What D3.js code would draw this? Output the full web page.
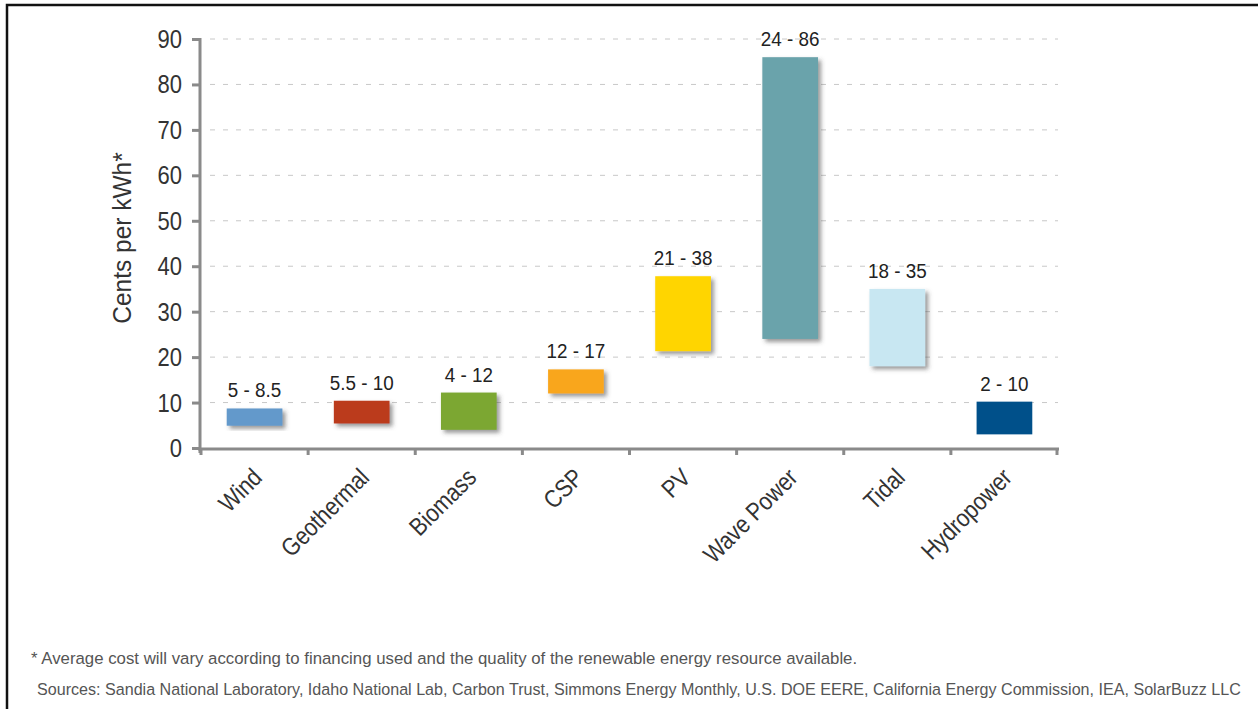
<!DOCTYPE html>
<html>
<head>
<meta charset="utf-8">
<script src="https://cdn.jsdelivr.net/npm/d3@7"></script>
<style>
  body { margin: 0; background: #fff; }
  svg { display: block; font-family: "Liberation Sans", Arial, sans-serif; }
</style>
</head>
<body>
<svg id="chart"></svg>
<script>
// data
const categories = ['Wind', 'Geothermal', 'Biomass', 'CSP', 'PV', 'Wave Power', 'Tidal', 'Hydropower'];
const lowValues = [4.9, 5.4, 4, 12, 21.3, 24, 18, 3];
const highValues = [8.7, 10.4, 12.2, 17.3, 37.8, 86, 35, 10.2];
const rangeLabels = ['5 - 8.5', '5.5 - 10', '4 - 12', '12 - 17', '21 - 38', '24 - 86', '18 - 35', '2 - 10'];
const barColors = ['#6499cb', '#bb3a1a', '#7ba733', '#f9a61b', '#ffd500', '#6ba3ab', '#c8e7f2', '#00508a'];
const yTicks = [0, 10, 20, 30, 40, 50, 60, 70, 80, 90];
const footnote = '* Average cost will vary according to financing used and the quality of the renewable energy resource available.';
const sources = 'Sources: Sandia National Laboratory, Idaho National Lab, Carbon Trust, Simmons Energy Monthly, U.S. DOE EERE, California Energy Commission, IEA, SolarBuzz LLC';

const width = 1258, height = 709;
const svg = d3.select('#chart').attr('width', width).attr('height', height);

// no narrow font installed, so squeeze Liberation Sans sideways
function narrowText(parent, px, py, str, size, sx, anchor, angle) {
  return parent.append('text')
    .attr('transform', `translate(${px},${py}) rotate(${angle || 0}) scale(${sx},1)`)
    .attr('text-anchor', anchor || 'start')
    .style('font-size', size + 'px')
    .text(str);
}

// squeeze a line so it spans a given width
function fitText(parent, px, py, str, size, w) {
  const t = narrowText(parent, px, py, str, size, 1);
  const natural = t.node().getComputedTextLength();
  t.attr('transform', `translate(${px},${py}) scale(${w / natural},1)`);
  return t;
}

// frame, only top and left edges are in view
svg.append('rect')
  .attr('x', 7).attr('y', 5)
  .attr('width', 1400).attr('height', 900)
  .attr('fill', 'none').attr('stroke', '#111').attr('stroke-width', 2.5);

const defs = svg.append('defs');
defs.append('filter').attr('id', 'shadow')
  .attr('x', '-20%').attr('y', '-20%').attr('width', '150%').attr('height', '150%')
  .append('feDropShadow')
  .attr('dx', 3).attr('dy', 3).attr('stdDeviation', 2)
  .attr('flood-color', '#444').attr('flood-opacity', 0.55);

const x = d3.scaleBand().domain(categories).range([201, 1058]).paddingInner(0.48).paddingOuter(0.24);
const y = d3.scaleLinear().domain([0, 90]).range([448, 39]);

// dashed grid
svg.append('g').selectAll('line')
  .data(yTicks.filter(d => d > 0))
  .enter().append('line')
  .attr('x1', 210).attr('x2', 1058)
  .attr('y1', d => y(d)).attr('y2', d => y(d))
  .attr('stroke', '#c8c8c8').attr('stroke-width', 1)
  .attr('stroke-dasharray', '5,8');

// y axis
const yAxis = svg.append('g')
  .attr('transform', 'translate(200,0)')
  .call(d3.axisLeft(y).tickValues(yTicks).tickSize(8));
yAxis.select('.domain').attr('stroke', '#8a8a8a').attr('stroke-width', 3)
  .attr('d', `M0,${y(90) - 1}V${y(0) + 5}`);
yAxis.selectAll('.tick line').attr('stroke', '#8a8a8a').attr('stroke-width', 3);
yAxis.selectAll('.tick text').remove();

const yLabels = svg.append('g').attr('fill', '#333');
yTicks.forEach(t => {
  narrowText(yLabels, 182, y(t) + 9, String(t), 25, 0.88, 'end');
});

// x axis with ticks at band edges
const xAxisG = svg.append('g').attr('transform', `translate(0,${y(0) + 1})`);
xAxisG.append('line')
  .attr('x1', 198).attr('x2', 1059)
  .attr('stroke', '#8a8a8a').attr('stroke-width', 3);
const edges = categories.map(c => x(c) - x.step() * x.paddingInner() / 2).concat([1057]);
xAxisG.selectAll('.edge')
  .data(edges)
  .enter().append('line')
  .attr('x1', d => d).attr('x2', d => d)
  .attr('y1', 0).attr('y2', 6)
  .attr('stroke', '#8a8a8a').attr('stroke-width', 3);

const xLabels = xAxisG.append('g').attr('fill', '#333');
categories.forEach(c => {
  narrowText(xLabels, x(c) + x.bandwidth() / 2 + 9, 30, c, 25, 0.86, 'end', -45);
});

// y title
narrowText(svg.append('g').attr('fill', '#333'), 131, 238, 'Cents per kWh*', 25, 0.98, 'middle', -90);

// floating bars
const bars = categories.map((c, i) => ({ name: c, low: lowValues[i], high: highValues[i], label: rangeLabels[i], color: barColors[i] }));

svg.append('g').selectAll('rect')
  .data(bars)
  .enter().append('rect')
  .attr('x', d => x(d.name))
  .attr('y', d => y(d.high))
  .attr('width', x.bandwidth())
  .attr('height', d => y(d.low) - y(d.high))
  .attr('fill', d => d.color)
  .attr('filter', d => d.name === 'Hydropower' ? null : 'url(#shadow)');

const valueLabels = svg.append('g').attr('fill', '#222');
bars.forEach(d => {
  narrowText(valueLabels, x(d.name) + x.bandwidth() / 2, y(d.high) - 11, d.label, 20.5, 0.92, 'middle');
});

// notes
const notes = svg.append('g').attr('fill', '#555');
fitText(notes, 31, 664, footnote, 17, 827);
fitText(notes, 37, 695, sources, 17, 1205);
</script>
</body>
</html>
